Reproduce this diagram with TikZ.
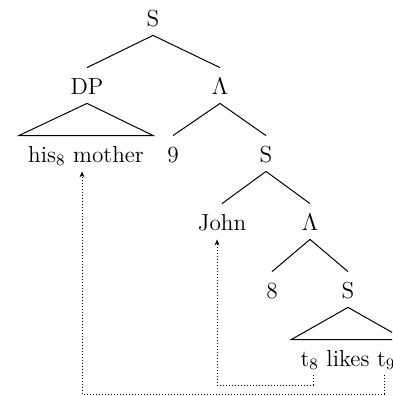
\documentclass[tikz,border=0pt]{standalone}
\usetikzlibrary{arrows.meta,calc}
\begin{document}
\begin{tikzpicture}[x=0.5pt,y=-0.5pt,
  lab/.style={inner sep=0pt, text height=13pt, text depth=4.5pt, anchor=base, font=\fontsize{11.6}{14}\selectfont},
  leaf/.style={lab, inner xsep=4.5pt},
  edge/.style={line width=0.5pt},
  mv/.style={line width=0.5pt, dash pattern=on 0.5pt off 1pt, -{Stealth[length=3pt,width=2.4pt]}}]
\useasboundingbox (0,0) rectangle (392,396);
\clip (0,0) rectangle (392,396);
% nodes
\node[lab] (S1) at (153,26) {S};
\node[lab] (DP) at (87,94) {DP};
\node[lab] (L1) at (220,94) {$\Lambda$};
\node[leaf] (hm) at (86,162) {his$_8$ mother};
\node[lab] (n9) at (173,162) {9};
\node[lab] (S2) at (266,162) {S};
\node[lab] (John) at (222,230) {John};
\node[lab] (L2) at (310,230) {$\Lambda$};
\node[lab] (n8) at (272,298) {8};
\node[lab] (S3) at (348,298) {S};
\node[leaf] (tl) at (348,366) {t$_8$ likes t$_9$};
% edges
\draw[edge] (S1.south) -- (DP.north);
\draw[edge] (S1.south) -- (L1.north);
\draw[edge] (DP.south) -- (hm.north west) -- (hm.north east) -- cycle;
\draw[edge] (L1.south) -- (n9.north);
\draw[edge] (L1.south) -- (S2.north);
\draw[edge] (S2.south) -- (John.north);
\draw[edge] (S2.south) -- (L2.north);
\draw[edge] (L2.south) -- (n8.north);
\draw[edge] (L2.south) -- (S3.north);
\draw[edge] (S3.south) -- (tl.north west) -- (tl.north east) -- cycle;
% movement arrows
\coordinate (t8) at (313,375);
\coordinate (t9) at (384,375);
\draw[mv] (t8) -- ++(0,10) -| ([xshift=-2.5pt]John.south);
\draw[mv] (t9) -- ++(0,19) -| ([xshift=-2pt]hm.south);
\end{tikzpicture}
\end{document}
